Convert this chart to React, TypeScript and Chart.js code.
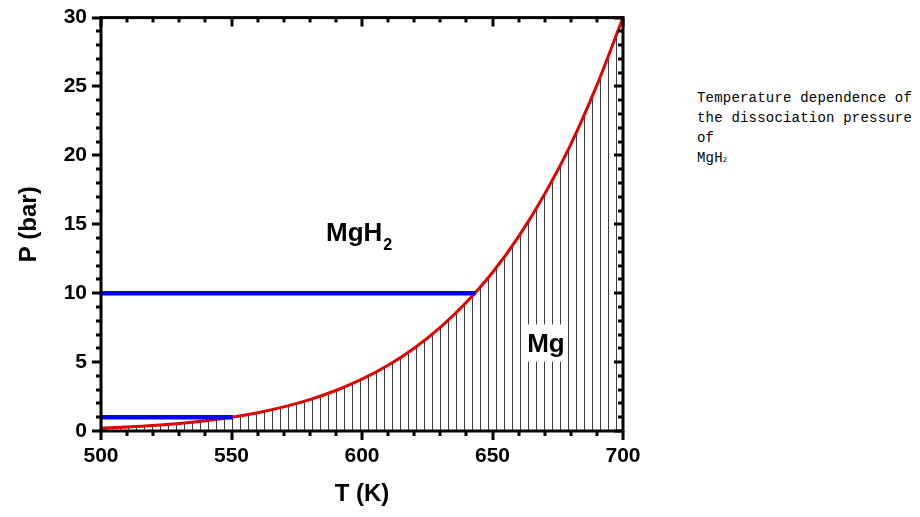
import React, { useEffect, useRef } from 'react';
import { Chart, registerables } from 'chart.js';

Chart.register(...registerables);

// ---- data ----
const temperatures = [500, 510, 520, 530, 540, 550, 560, 570, 580, 590, 600, 610, 620, 630, 640, 650, 660, 670, 680, 690, 700];
const pressures = [0.2, 0.29, 0.4, 0.55, 0.75, 1.0, 1.33, 1.75, 2.28, 2.94, 3.76, 4.77, 6.01, 7.52, 9.34, 11.5, 14.1, 17.2, 20.8, 25.1, 30.0];

const plateauHighT = [500, 643.5];
const plateauHighP = [10, 10];
const plateauLowT = [500, 550.5];
const plateauLowP = [1, 1];

const xMin = 500;
const xMax = 700;
const xMajorStep = 50;
const xMinorStep = 10;
const yMin = 0;
const yMax = 30;
const yMajorStep = 5;
const yMinorStep = 1;

const xTitle = 'T (K)';
const yTitle = 'P (bar)';
const phaseHydride = { text: 'MgH', sub: '2', T: 586.2, P: 13.8 };
const phaseMetal = { text: 'Mg', T: 663.3, P: 5.7 };
const sideNote = ['Temperature dependence of', 'the dissociation pressure', 'of'];

const FONT = "'Liberation Sans', Arial, sans-serif";

function makeHatch(): CanvasPattern | string {
  const c = document.createElement('canvas');
  c.width = 8;
  c.height = 8;
  const g = c.getContext('2d');
  if (!g) return '#888';
  g.fillStyle = '#3c3c3c';
  g.fillRect(0, 0, 1, 8);
  const p = g.createPattern(c, 'repeat');
  return p || '#888';
}

const decorPlugin = {
  id: 'decor',
  afterDatasetsDraw(chart: any) {
    const { ctx, scales } = chart;
    const x = scales.x;
    const y = scales.y;
    ctx.save();
    // MgH2 label
    ctx.fillStyle = '#000';
    ctx.font = `bold 26px ${FONT}`;
    ctx.textAlign = 'left';
    ctx.textBaseline = 'alphabetic';
    const hx = x.getPixelForValue(phaseHydride.T);
    const hy = y.getPixelForValue(phaseHydride.P);
    ctx.fillText(phaseHydride.text, hx, hy);
    const w = ctx.measureText(phaseHydride.text).width;
    ctx.font = `bold 16px ${FONT}`;
    ctx.fillText(phaseHydride.sub, hx + w + 1, hy + 9);

    // Mg label with white box
    ctx.font = `bold 26px ${FONT}`;
    const mx = x.getPixelForValue(phaseMetal.T);
    const my = y.getPixelForValue(phaseMetal.P);
    const mw = ctx.measureText(phaseMetal.text).width;
    ctx.fillStyle = '#fff';
    ctx.fillRect(mx - 3, my - 28, mw + 6, 37);
    ctx.fillStyle = '#000';
    ctx.fillText(phaseMetal.text, mx, my);
    ctx.restore();
  },
  afterDraw(chart: any) {
    const { ctx, chartArea: a, scales } = chart;
    const x = scales.x;
    const y = scales.y;
    ctx.save();
    ctx.strokeStyle = '#000';
    ctx.lineWidth = 3;
    ctx.lineCap = 'butt';
    ctx.strokeRect(a.left, a.top, a.right - a.left, a.bottom - a.top);
    ctx.beginPath();
    for (let t = xMin; t <= xMax + 1e-6; t += xMinorStep) {
      const px = Math.round(x.getPixelForValue(t));
      const major = Math.abs(t % xMajorStep) < 1e-6;
      const len = major ? 9 : 5;
      ctx.moveTo(px, a.bottom);
      ctx.lineTo(px, a.bottom + len);
      ctx.moveTo(px, a.top);
      ctx.lineTo(px, a.top + len);
    }
    for (let p = yMin; p <= yMax + 1e-6; p += yMinorStep) {
      const py = Math.round(y.getPixelForValue(p));
      const major = Math.abs(p % yMajorStep) < 1e-6;
      const len = major ? 9 : 5;
      ctx.moveTo(a.left, py);
      ctx.lineTo(a.left - len, py);
      ctx.moveTo(a.right, py);
      ctx.lineTo(a.right - len, py);
    }
    ctx.stroke();
    ctx.restore();
  },
};

export default function App() {
  const ref = useRef<HTMLCanvasElement | null>(null);

  useEffect(() => {
    if (!ref.current) return;
    const hatch = makeHatch();
    const curve = temperatures.map((t, i) => ({ x: t, y: pressures[i] }));
    const high = plateauHighT.map((t, i) => ({ x: t, y: plateauHighP[i] }));
    const low = plateauLowT.map((t, i) => ({ x: t, y: plateauLowP[i] }));
    const tickFont = { family: FONT, size: 21, weight: 'bold' as const };
    const titleFont = { family: FONT, size: 24, weight: 'bold' as const };

    const chart = new Chart(ref.current, {
      type: 'line',
      data: {
        datasets: [
          {
            label: 'plateau 10 bar',
            data: high,
            borderColor: '#0000ff',
            borderWidth: 4.5,
            pointRadius: 0,
            fill: false,
          },
          {
            label: 'plateau 1 bar',
            data: low,
            borderColor: '#0000ff',
            borderWidth: 4.5,
            pointRadius: 0,
            fill: false,
          },
          {
            label: 'dissociation pressure',
            data: curve,
            borderColor: '#e00000',
            borderWidth: 3,
            pointRadius: 0,
            cubicInterpolationMode: 'monotone',
            fill: 'origin',
            backgroundColor: hatch as any,
          },
        ],
      },
      options: {
        animation: false,
        responsive: false,
        maintainAspectRatio: false,
        layout: { padding: { left: 0, top: 17, right: 57, bottom: 0 } },
        plugins: {
          legend: { display: false },
          tooltip: { enabled: false },
          title: { display: false },
        },
        scales: {
          x: {
            type: 'linear',
            min: xMin,
            max: xMax,
            ticks: { stepSize: xMajorStep, color: '#000', font: tickFont, padding: 4, maxRotation: 0 },
            grid: { display: true, drawOnChartArea: false, drawTicks: true, tickLength: 9, tickColor: 'rgba(0,0,0,0)' },
            border: { display: false },
            title: { display: true, text: xTitle, color: '#000', font: titleFont, padding: { top: 0, bottom: 8 } },
            afterFit(scale: any) {
              scale.height = 86;
            },
          },
          y: {
            type: 'linear',
            min: yMin,
            max: yMax,
            ticks: { stepSize: yMajorStep, color: '#000', font: tickFont, padding: 5 },
            grid: { display: true, drawOnChartArea: false, drawTicks: true, tickLength: 9, tickColor: 'rgba(0,0,0,0)' },
            border: { display: false },
            title: { display: true, text: yTitle, color: '#000', font: titleFont, padding: { top: 15, bottom: 0 } },
            afterFit(scale: any) {
              scale.width = 101;
            },
          },
        },
      },
      plugins: [decorPlugin],
    });
    return () => chart.destroy();
  }, []);

  return (
    <div style={{ position: 'fixed', left: 0, top: 0, width: 920, height: 517, background: '#fff' }}>
      <canvas ref={ref} width={680} height={517} style={{ position: 'absolute', left: 0, top: 0, width: 680, height: 517 }} />
      <div
        style={{
          position: 'absolute',
          left: 697,
          top: 88,
          fontFamily: "'Liberation Mono', 'DejaVu Sans Mono', monospace",
          fontSize: 14,
          lineHeight: '20px',
          letterSpacing: '0.2px',
          color: '#000',
          whiteSpace: 'pre',
        }}
      >
        {sideNote.map((l, i) => (
          <div key={i}>{l}</div>
        ))}
        <div>
          MgH<span style={{ fontSize: 7 }}>2</span>
        </div>
      </div>
    </div>
  );
}
